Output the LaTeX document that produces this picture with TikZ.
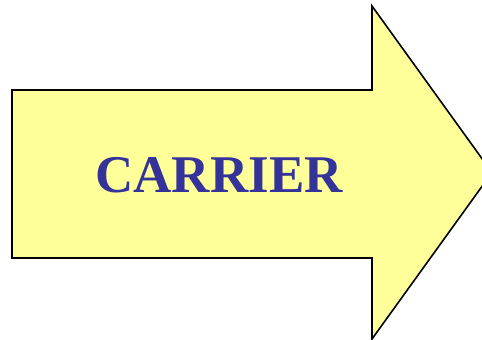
\documentclass[tikz,border=0pt]{standalone}
\usepackage{fontspec}
\setmainfont{Liberation Serif}
\definecolor{arrowfill}{HTML}{FFFF99}
\definecolor{labelblue}{HTML}{333399}
\begin{document}
\begin{tikzpicture}[x=1pt, y=-1pt,
    bigarrow/.style={draw=black, line width=1.6pt, fill=arrowfill, line join=miter},
    arrowlabel/.style={text=labelblue, font=\fontsize{53}{60}\selectfont\bfseries, inner sep=0pt}]
    \useasboundingbox (0,0) rectangle (482,340);
    \begin{scope}
      \clip (0,0) rectangle (482,340);
      \draw[bigarrow] (12,90) -- (372,90) -- (372,6) -- (492,172.5)
        -- (372,339) -- (372,258) -- (12,258) -- cycle;
    \end{scope}
    \node[arrowlabel] (carrier) at (219,175) {CARRIER};
  \end{tikzpicture}
\end{document}
